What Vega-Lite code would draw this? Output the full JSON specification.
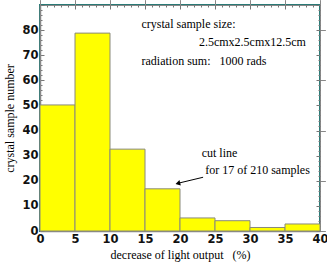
{
  "$schema": "https://vega.github.io/schema/vega-lite/v6.json",
  "width": 280,
  "height": 226,
  "autosize": {"type": "none"},
  "padding": {"left": 40, "top": 5, "right": 7, "bottom": 37},
  "config": {
    "view": {"stroke": "#2a7a76", "strokeWidth": 2},
    "axis": {"grid": false}
  },
  "layer": [
    {
      "data": {"values": [
        {"lo": 0, "hi": 5, "count": 50.2},
        {"lo": 5, "hi": 10, "count": 78.8},
        {"lo": 10, "hi": 15, "count": 32.6},
        {"lo": 15, "hi": 20, "count": 16.8},
        {"lo": 20, "hi": 25, "count": 5.2},
        {"lo": 25, "hi": 30, "count": 4.1},
        {"lo": 30, "hi": 35, "count": 1.4},
        {"lo": 35, "hi": 40, "count": 2.8}
      ]},
      "mark": {"type": "bar", "fill": "#ffff00", "stroke": "#8a8a7a", "strokeWidth": 1},
      "encoding": {
        "x": {"field": "lo", "type": "quantitative", "scale": {"domain": [0, 40], "nice": false},
          "axis": {
            "title": "decrease of light output\u00a0\u00a0\u00a0(%)",
            "titleFont": "Liberation Serif", "titleFontSize": 12, "titleFontWeight": "normal", "titlePadding": 3,
            "values": [0,1,2,3,4,5,6,7,8,9,10,11,12,13,14,15,16,17,18,19,20,21,22,23,24,25,26,27,28,29,30,31,32,33,34,35,36,37,38,39,40],
            "labelExpr": "datum.value % 5 === 0 ? datum.label : ''",
            "labelFont": "DejaVu Sans", "labelFontWeight": "bold", "labelFontSize": 11.5, "labelColor": "#111",
            "tickSize": {"condition": {"test": "datum.value % 5 === 0", "value": -4}, "value": -2},
            "tickColor": "#777", "domainColor": "#888", "domainWidth": 1.5,
            "labelPadding": 6, "labelFlush": false, "labelOverlap": false
          }},
        "x2": {"field": "hi"},
        "y": {"field": "count", "type": "quantitative", "scale": {"domain": [0, 90], "nice": false},
          "axis": {
            "title": "crystal sample number",
            "titleFont": "Liberation Serif", "titleFontSize": 12, "titleFontWeight": "normal", "titlePadding": 5,
            "values": [0,2,4,6,8,10,12,14,16,18,20,22,24,26,28,30,32,34,36,38,40,42,44,46,48,50,52,54,56,58,60,62,64,66,68,70,72,74,76,78,80,82,84,86,88,90],
            "labelExpr": "datum.value % 10 === 0 && datum.value <= 80 ? datum.label : ''",
            "labelFont": "DejaVu Sans", "labelFontWeight": "bold", "labelFontSize": 11.5, "labelColor": "#111",
            "tickSize": {"condition": {"test": "datum.value % 10 === 0", "value": -4}, "value": -2},
            "tickColor": "#777", "domainColor": "#888", "domainWidth": 1.5,
            "labelPadding": 6, "labelOverlap": false
          }},
        "y2": {"datum": 0}
      }
    },
    {
      "data": {"values": [
        {"x": 14.5, "y": 81, "label": "crystal sample size:"},
        {"x": 22.7, "y": 73.8, "label": "2.5cmx2.5cmx12.5cm"},
        {"x": 14.5, "y": 66.3, "label": "radiation sum:\u00a0\u00a0\u00a01000 rads"},
        {"x": 23.1, "y": 29.5, "label": "cut line"},
        {"x": 23.6, "y": 22.6, "label": "for 17 of 210 samples"}
      ]},
      "mark": {"type": "text", "align": "left", "baseline": "alphabetic", "font": "Liberation Serif", "fontSize": 12, "color": "#000"},
      "encoding": {
        "x": {"field": "x", "type": "quantitative"},
        "y": {"field": "y", "type": "quantitative"},
        "text": {"field": "label"}
      }
    },
    {
      "data": {"values": [{"x": 23.3, "y": 21.4, "x2": 20.0, "y2": 19.2}]},
      "mark": {"type": "rule", "color": "#000", "strokeWidth": 1},
      "encoding": {
        "x": {"field": "x", "type": "quantitative"},
        "y": {"field": "y", "type": "quantitative"},
        "x2": {"field": "x2"},
        "y2": {"field": "y2"}
      }
    },
    {
      "data": {"values": [{"x": 19.8, "y": 19.05}]},
      "mark": {"type": "point", "shape": "triangle", "filled": true, "color": "#000", "size": 30, "angle": 256, "opacity": 1},
      "encoding": {
        "x": {"field": "x", "type": "quantitative"},
        "y": {"field": "y", "type": "quantitative"}
      }
    },
    {
      "data": {"values": [{"x": 0, "y": 0}]},
      "mark": {"type": "point", "opacity": 0},
      "encoding": {
        "x": {"field": "x", "type": "quantitative",
          "axis": {"orient": "top", "title": null, "labels": false, "labelExpr": "''", "domain": false,
            "values": [0,1,2,3,4,5,6,7,8,9,10,11,12,13,14,15,16,17,18,19,20,21,22,23,24,25,26,27,28,29,30,31,32,33,34,35,36,37,38,39,40],
            "tickSize": {"condition": {"test": "datum.value % 5 === 0", "value": -4}, "value": -2},
            "tickColor": "#777"}},
        "y": {"field": "y", "type": "quantitative",
          "axis": {"orient": "right", "title": null, "labels": false, "labelExpr": "''", "domain": false,
            "values": [0,2,4,6,8,10,12,14,16,18,20,22,24,26,28,30,32,34,36,38,40,42,44,46,48,50,52,54,56,58,60,62,64,66,68,70,72,74,76,78,80,82,84,86,88,90],
            "tickSize": {"condition": {"test": "datum.value % 10 === 0", "value": -4}, "value": -2},
            "tickColor": "#777"}}
      }
    }
  ],
  "resolve": {"axis": {"x": "independent", "y": "independent"}}
}
